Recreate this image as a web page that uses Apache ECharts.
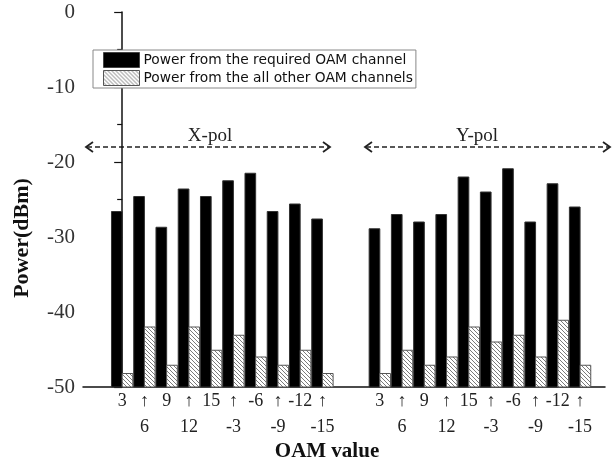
<!DOCTYPE html>
<html>
<head>
<meta charset="utf-8">
<script src="https://cdn.jsdelivr.net/npm/echarts@6/dist/echarts.min.js"></script>
<style>html,body{margin:0;padding:0;background:#fff}#c{width:616px;height:466px}</style>
</head>
<body>
<div id="c"></div>
<script>
// ---- data ----
const categories = ['3', '6', '9', '12', '15', '-3', '-6', '-9', '-12', '-15'];
const groups = ['X-pol', 'Y-pol'];
const xpolRequired = [-26.6, -24.6, -28.7, -23.6, -24.6, -22.5, -21.5, -26.6, -25.6, -27.6];
const xpolOthers   = [-48.2, -42.0, -47.1, -42.0, -45.1, -43.1, -46.0, -47.1, -45.1, -48.2];
const ypolRequired = [-28.9, -27.0, -28.0, -27.0, -22.0, -24.0, -20.9, -28.0, -22.9, -26.0];
const ypolOthers   = [-48.2, -45.1, -47.1, -46.0, -42.0, -44.0, -43.1, -46.0, -41.1, -47.1];
const seriesNames = ['Power from the required OAM channel', 'Power from the all other OAM channels'];
const yMin = -50, yMax = 0, yStep = 10;

// ---- layout ----
const GROUP_OFFSET = 11.58;
const X_MIN = -1.76, X_MAX = 21.7;
const SERIF = '"Liberation Serif", "DejaVu Serif", serif';
const SANS = '"DejaVu Sans", "Liberation Sans", sans-serif';

function pos(g, i) { return g * GROUP_OFFSET + i; }
const requiredData = [], othersData = [], positions = [], labelOf = [];
[[xpolRequired, xpolOthers], [ypolRequired, ypolOthers]].forEach((pair, g) => {
  categories.forEach((c, i) => {
    requiredData.push([pos(g, i), pair[0][i]]);
    othersData.push([pos(g, i), pair[1][i]]);
    positions.push(pos(g, i));
    labelOf.push({ p: pos(g, i), i: i, c: c });
  });
});
// blank sentinels at the axis ends so no real label is treated as min/max label
const labelValues = [X_MIN].concat(positions, [X_MAX]);

// hatch pattern
const pc = document.createElement('canvas');
pc.width = 4; pc.height = 4;
const ctx = pc.getContext('2d');
ctx.fillStyle = '#fff'; ctx.fillRect(0, 0, 4, 4);
ctx.strokeStyle = '#7a7a7a'; ctx.lineWidth = 1;
ctx.beginPath();
ctx.moveTo(0, 0); ctx.lineTo(4, 4);
ctx.moveTo(-2, 2); ctx.lineTo(2, 6);
ctx.moveTo(2, -2); ctx.lineTo(6, 2);
ctx.stroke();
const hatch = { image: pc, repeat: 'repeat' };

function makeRender(side, fill, stroke) {
  return function (params, api) {
    const x = api.value(0), v = api.value(1);
    const unit = api.size([1, 0])[0];
    const w = unit * 0.48;
    const top = api.coord([x, v]);
    const base = api.coord([x, yMin]);
    const left = side === 0 ? top[0] - w : top[0];
    return {
      type: 'rect',
      shape: { x: left, y: top[1], width: w, height: base[1] - top[1] },
      style: { fill: fill, stroke: stroke, lineWidth: 1 }
    };
  };
}

const chart = echarts.init(document.getElementById('c'), null, { renderer: 'canvas' });

const arrowColor = '#222';
function arrowGraphics(x1, x2, y) {
  return [
    { type: 'line', shape: { x1: x1 + 1, y1: y, x2: x2 - 1, y2: y }, style: { stroke: arrowColor, lineWidth: 1.5, lineDash: [5, 3] } },
    { type: 'polyline', shape: { points: [[x1 + 7, y - 5], [x1, y], [x1 + 7, y + 5]] }, style: { stroke: arrowColor, lineWidth: 1.8, fill: null } },
    { type: 'polyline', shape: { points: [[x2 - 7, y - 5], [x2, y], [x2 - 7, y + 5]] }, style: { stroke: arrowColor, lineWidth: 1.8, fill: null } }
  ];
}

chart.setOption({
  backgroundColor: '#fff',
  animation: false,
  grid: { left: 83, right: 11, top: 12, bottom: 79, containLabel: false },
  legend: {
    left: 93, top: 50,
    orient: 'vertical',
    itemWidth: 36, itemHeight: 15, itemGap: 2,
    padding: [2, 3, 2, 10],
    borderColor: '#888', borderWidth: 1,
    backgroundColor: '#fff',
    textStyle: { fontFamily: SANS, fontSize: 13.8, color: '#111', padding: [0, 0, 0, -1] },
    data: [
      { name: seriesNames[0], icon: 'rect', itemStyle: { color: '#000', borderColor: '#444', borderWidth: 1 } },
      { name: seriesNames[1], icon: 'rect', itemStyle: { color: hatch, borderColor: '#555', borderWidth: 1 } }
    ]
  },
  xAxis: {
    type: 'value',
    min: X_MIN, max: X_MAX,
    axisLine: { show: true, onZero: false, lineStyle: { color: '#111', width: 1.5 } },
    axisTick: { show: false },
    splitLine: { show: false },
    axisLabel: {
      customValues: labelValues,
      hideOverlap: false,
      margin: 1,
      formatter: function (v) {
        let best = null, bd = Infinity;
        labelOf.forEach(o => { const d = Math.abs(o.p - v); if (d < bd) { bd = d; best = o; } });
        if (!best || bd > 0.3) return '';
        return best.i % 2 === 0 ? '{t|' + best.c + '}' : '{t|↑}\n{t|' + best.c + '}';
      },
      rich: { t: { fontFamily: SERIF, fontSize: 18, color: '#222', lineHeight: 26 } }
    }
  },
  yAxis: {
    type: 'value',
    min: yMin, max: yMax, interval: yStep,
    axisLine: { show: true, lineStyle: { color: '#111', width: 1.5 } },
    axisTick: { show: true, length: 8, lineStyle: { color: '#111', width: 1.2 } },
    minorTick: { show: true, splitNumber: 2, length: 5, lineStyle: { color: '#111', width: 1.2 } },
    splitLine: { show: false },
    axisLabel: { fontFamily: SERIF, fontSize: 21, color: '#333', margin: 8 }
  },
  series: [
    {
      name: seriesNames[0], type: 'custom',
      itemStyle: { color: '#000', borderColor: '#444' },
      renderItem: makeRender(0, '#000', '#333'),
      data: requiredData, encode: { x: 0, y: 1 }
    },
    {
      name: seriesNames[1], type: 'custom',
      itemStyle: { color: hatch, borderColor: '#555' },
      renderItem: makeRender(1, hatch, '#555'),
      data: othersData, encode: { x: 0, y: 1 }
    }
  ],
  graphic: [
    ...arrowGraphics(86, 330, 147),
    ...arrowGraphics(365, 610, 147),
    { type: 'text', x: 210, y: 146, style: { text: groups[0], font: '19px ' + SERIF, fill: '#222', align: 'center', verticalAlign: 'bottom' } },
    { type: 'text', x: 477, y: 146, style: { text: groups[1], font: '19px ' + SERIF, fill: '#222', align: 'center', verticalAlign: 'bottom' } },
    { type: 'text', x: 327, y: 452, style: { text: 'OAM value', font: 'bold 21px ' + SERIF, fill: '#111', align: 'center', verticalAlign: 'middle' } },
    { type: 'text', x: 22, y: 238, rotation: Math.PI / 2, style: { text: 'Power(dBm)', font: 'bold 22px ' + SERIF, fill: '#111', align: 'center', verticalAlign: 'middle' } }
  ]
});
</script>
</body>
</html>
